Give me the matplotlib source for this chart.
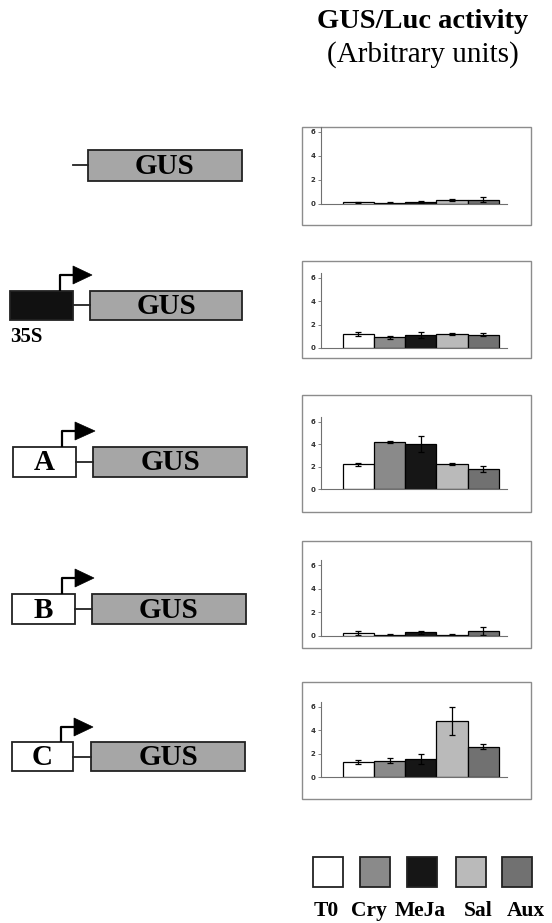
import matplotlib.pyplot as plt
from matplotlib.patches import Rectangle, Polygon

# treatments shown in every panel
treatments = ['T0', 'Cry', 'MeJa', 'Sal', 'Aux']
colors = ['#ffffff', '#8a8a8a', '#161616', '#bababa', '#717171']

# GUS/Luc activity (arbitrary units), one row per construct
promoterless = [0.15, 0.10, 0.15, 0.35, 0.35]
promoterless_err = [0.05, 0.08, 0.08, 0.10, 0.20]
p35s = [1.20, 0.90, 1.10, 1.20, 1.15]
p35s_err = [0.20, 0.10, 0.25, 0.05, 0.15]
prom_a = [2.20, 4.20, 4.00, 2.20, 1.80]
prom_a_err = [0.15, 0.05, 0.70, 0.10, 0.25]
prom_b = [0.25, 0.10, 0.30, 0.10, 0.45]
prom_b_err = [0.15, 0.05, 0.15, 0.10, 0.35]
prom_c = [1.30, 1.40, 1.55, 4.80, 2.60]
prom_c_err = [0.15, 0.20, 0.45, 1.20, 0.20]

yticks = [0, 2, 4, 6]

W, H = 552, 923
fig = plt.figure(figsize=(W / 100, H / 100), dpi=100)
bg = fig.add_axes([0, 0, 1, 1])
bg.set_xlim(0, W)
bg.set_ylim(H, 0)
bg.axis('off')

serif = 'Liberation Serif'

bg.text(423, 22, 'GUS/Luc activity', ha='center', va='center',
        fontsize=20.5, fontweight='bold', family=serif)
bg.text(423, 55, '(Arbitrary units)', ha='center', va='center',
        fontsize=21, family=serif)

# panel layout: frame top, frame bottom, zero line y, px per unit
panels = [
    (127, 225, 204, 12.0, promoterless, promoterless_err),
    (261, 358, 348, 11.7, p35s, p35s_err),
    (395, 512, 489, 11.2, prom_a, prom_a_err),
    (541, 648, 636, 11.8, prom_b, prom_b_err),
    (682, 799, 777, 11.7, prom_c, prom_c_err),
]

ax_left, ax_right = 321, 507
for top, bottom, zero, scale, vals, errs in panels:
    bg.add_patch(Rectangle((302, top), 229, bottom - top, fill=False,
                           edgecolor='#8c8c8c', lw=1.0))
    ymax = 6.4
    ax = fig.add_axes([ax_left / W, 1 - zero / H, (ax_right - ax_left) / W,
                       ymax * scale / H])
    ax.bar(range(len(vals)), vals, width=1.0, color=colors,
           edgecolor='black', linewidth=0.9, yerr=errs,
           error_kw=dict(ecolor='black', elinewidth=0.9, capsize=2.5,
                         capthick=0.9))
    ax.set_xlim(-1.2, 4.76)
    ax.set_ylim(0, ymax)
    ax.set_facecolor('none')
    ax.set_yticks(yticks)
    ax.set_yticklabels([str(t) for t in yticks], fontweight='bold')
    ax.set_xticks([])
    for s in ['top', 'right']:
        ax.spines[s].set_visible(False)
    for s in ['left', 'bottom']:
        ax.spines[s].set_color('#707070')
        ax.spines[s].set_linewidth(0.8)
    ax.tick_params(axis='y', length=2, width=0.6, color='#707070',
                   labelsize=5, pad=2, labelcolor='#303030')

# construct diagrams on the left
gus_fill = '#a6a6a6'
lw = 1.3


def gus_box(x0, x1, y0, y1):
    bg.add_patch(Rectangle((x0, y0), x1 - x0, y1 - y0, facecolor=gus_fill,
                           edgecolor='#222222', lw=lw))
    bg.text((x0 + x1) / 2, (y0 + y1) / 2 + 1, 'GUS', ha='center', va='center',
            fontsize=21, fontweight='bold', family=serif)


def promoter(x0, x1, y0, y1, label, fill, arrow_x, arrow_y, tri_x0, tri_x1):
    bg.add_patch(Rectangle((x0, y0), x1 - x0, y1 - y0, facecolor=fill,
                           edgecolor='#222222', lw=lw))
    if label:
        bg.text((x0 + x1) / 2, (y0 + y1) / 2 + 1, label, ha='center',
                va='center', fontsize=21, fontweight='bold', family=serif)
    bg.plot([arrow_x, arrow_x, tri_x0], [y0, arrow_y, arrow_y],
            color='black', lw=1.6, solid_capstyle='butt')
    bg.add_patch(Polygon([(tri_x0, arrow_y - 9), (tri_x1, arrow_y),
                          (tri_x0, arrow_y + 9)], closed=True,
                         facecolor='black', edgecolor='black', lw=0.5))


# row 1: promoterless
bg.plot([73, 88], [165, 165], color='#222222', lw=lw)
gus_box(88, 242, 150, 181)

# row 2: 35S
promoter(10, 73, 291, 320, '', '#111111', 60, 275, 73, 92)
bg.plot([73, 90], [305, 305], color='#222222', lw=lw)
gus_box(90, 242, 291, 320)
bg.text(10, 337, '35S', ha='left', va='center', fontsize=15,
        fontweight='bold', family=serif)

# row 3: A
promoter(13, 76, 447, 477, 'A', 'white', 62, 431, 75, 95)
bg.plot([76, 93], [462, 462], color='#222222', lw=lw)
gus_box(93, 247, 447, 477)

# row 4: B
promoter(12, 75, 594, 624, 'B', 'white', 62, 578, 75, 94)
bg.plot([75, 92], [609, 609], color='#222222', lw=lw)
gus_box(92, 246, 594, 624)

# row 5: C
promoter(12, 73, 742, 771, 'C', 'white', 61, 727, 74, 93)
bg.plot([73, 91], [757, 757], color='#222222', lw=lw)
gus_box(91, 245, 742, 771)

# legend
sq_x = [313, 360, 407, 456, 502]
lab_x = [326, 369, 420, 478, 526]
for i, name in enumerate(treatments):
    bg.add_patch(Rectangle((sq_x[i], 857), 30, 30, facecolor=colors[i],
                           edgecolor='#222222', lw=1.3))
    bg.text(lab_x[i], 911, name, ha='center', va='center', fontsize=15.5,
            fontweight='bold', family=serif)

fig.savefig('out.png', dpi=100, facecolor='white')
